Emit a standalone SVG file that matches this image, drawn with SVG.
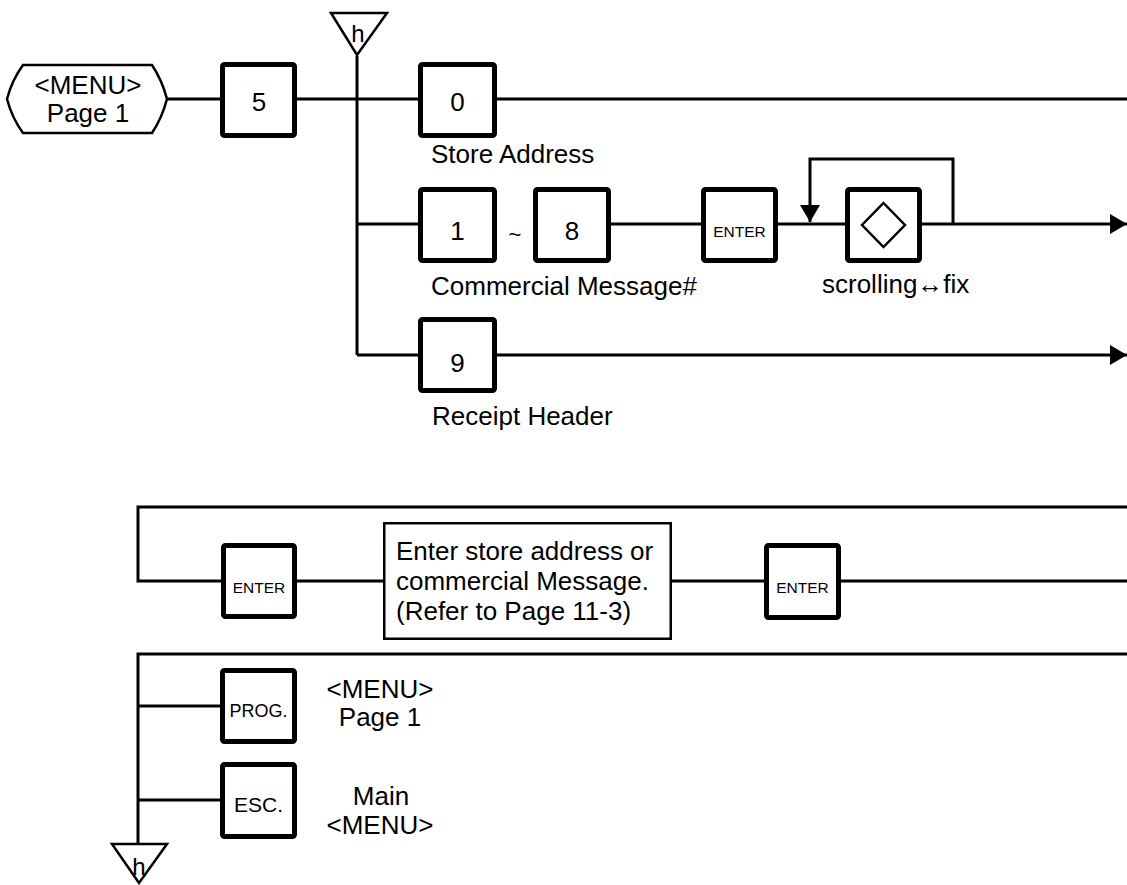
<svg xmlns="http://www.w3.org/2000/svg" width="1127" height="885" viewBox="0 0 1127 885">
<style>
text{font-family:"Liberation Sans",Arial,sans-serif;fill:#000}
.key{fill:#fff;stroke:#000;stroke-width:5}
.big{font-size:26px}
.lbl{font-size:26px}
.sm{font-size:15.5px}
.c{text-anchor:middle}
.ln{fill:none;stroke:#000;stroke-width:3}
.thin{fill:#fff;stroke:#000;stroke-width:2.5}
</style>
<defs>
<marker id="ah" viewBox="0 0 17 20" markerWidth="17" markerHeight="20" refX="17" refY="10" orient="auto" markerUnits="userSpaceOnUse">
<path d="M0,0 L17,10 L0,20 z" fill="#000"/>
</marker>
</defs>
<g id="connectors">
<path class="ln" d="M167,99 H220"/>
<path class="ln" d="M297,99 H418"/>
<path class="ln" d="M357,56 V355"/>
<path class="ln" d="M357,224 H418"/>
<path class="ln" d="M357,355 H418"/>
<path class="ln" d="M497,99 H1127"/>
<path class="ln" d="M611,224 H701"/>
<path class="ln" d="M778,224 H845"/>
<path class="ln" d="M922,224 H1127" marker-end="url(#ah)"/>
<path class="ln" d="M953,224 V159 H810 V222" marker-end="url(#ah)"/>
<path class="ln" d="M496,355 H1127" marker-end="url(#ah)"/>
<path class="ln" d="M1127,507 H138 V581 H221"/>
<path class="ln" d="M297,581 H384"/>
<path class="ln" d="M671,581 H764"/>
<path class="ln" d="M841,581 H1127"/>
<path class="ln" d="M1127,654 H138 V844"/>
<path class="ln" d="M138,706 H220"/>
<path class="ln" d="M138,800 H220"/>
</g>
<g id="menu-start">
<path class="thin" d="M23,65 H152 Q162,80 167,99 Q162,118 152,133 H23 Q12,118 7,99 Q12,80 23,65 Z"/>
<text class="big c" x="88" y="94">&lt;MENU&gt;</text>
<text class="big c" x="88" y="122">Page 1</text>
</g>
<g id="h-top">
<path class="thin" d="M331,13 H387 L357,55 Z" fill="none"/>
<text class="c" x="358" y="42" font-size="24">h</text>
</g>
<g id="key-5">
<rect class="key" x="222.5" y="64.5" width="72" height="71" rx="2"/>
<text class="big c" x="259" y="111">5</text>
</g>
<g id="key-0">
<rect class="key" x="420.5" y="64.5" width="74" height="71" rx="2"/>
<text class="big c" x="457.5" y="111">0</text>
<text class="lbl" x="431" y="163">Store Address</text>
</g>
<g id="key-1">
<rect class="key" x="420.5" y="189.5" width="74" height="71" rx="2"/>
<text class="big c" x="457.5" y="240">1</text>
</g>
<g id="tilde">
<text class="c" x="515" y="242" font-size="22">~</text>
</g>
<g id="key-8">
<rect class="key" x="535.5" y="189.5" width="73" height="71" rx="2"/>
<text class="big c" x="572" y="240">8</text>
<text class="lbl" x="431" y="295">Commercial Message#</text>
</g>
<g id="key-enter-1">
<rect class="key" x="703.5" y="189.5" width="72" height="71" rx="2"/>
<text class="sm c" x="739.5" y="237">ENTER</text>
</g>
<g id="key-diamond">
<rect class="key" x="847.5" y="189.5" width="72" height="71" rx="2"/>
<path d="M883.5,203 L905,225 L883.5,247 L862,225 Z" fill="none" stroke="#000" stroke-width="2.5"/>
<text class="lbl" x="822" y="293">scrolling↔fix</text>
</g>
<g id="key-9">
<rect class="key" x="420.5" y="319.5" width="74" height="71" rx="2"/>
<text class="big c" x="457.5" y="372">9</text>
<text class="lbl" x="432" y="425">Receipt Header</text>
</g>
<g id="key-enter-2">
<rect class="key" x="223.5" y="545.5" width="71" height="71" rx="2"/>
<text class="sm c" x="259" y="593">ENTER</text>
</g>
<g id="info-box">
<rect class="thin" x="384.25" y="523.25" width="286.5" height="115.5"/>
<text class="lbl" x="396" y="560">Enter store address or</text>
<text class="lbl" x="396" y="590">commercial Message.</text>
<text class="lbl" x="396" y="620">(Refer to Page 11-3)</text>
</g>
<g id="key-enter-3">
<rect class="key" x="766.5" y="545.5" width="72" height="72" rx="2"/>
<text class="sm c" x="802.5" y="593">ENTER</text>
</g>
<g id="key-prog">
<rect class="key" x="222.5" y="670.5" width="72" height="71" rx="2"/>
<text class="c" x="258.5" y="717" font-size="18">PROG.</text>
<text class="lbl c" x="380" y="698">&lt;MENU&gt;</text>
<text class="lbl c" x="380" y="726">Page 1</text>
</g>
<g id="key-esc">
<rect class="key" x="222.5" y="764.5" width="72" height="72" rx="2"/>
<text class="c" x="258.5" y="812" font-size="21">ESC.</text>
<text class="lbl c" x="381" y="805">Main</text>
<text class="lbl c" x="380" y="834">&lt;MENU&gt;</text>
</g>
<g id="h-bottom">
<path class="thin" d="M112,844 H167 L139,883 Z" fill="none"/>
<text class="c" x="139" y="875" font-size="24">h</text>
</g>
</svg>
